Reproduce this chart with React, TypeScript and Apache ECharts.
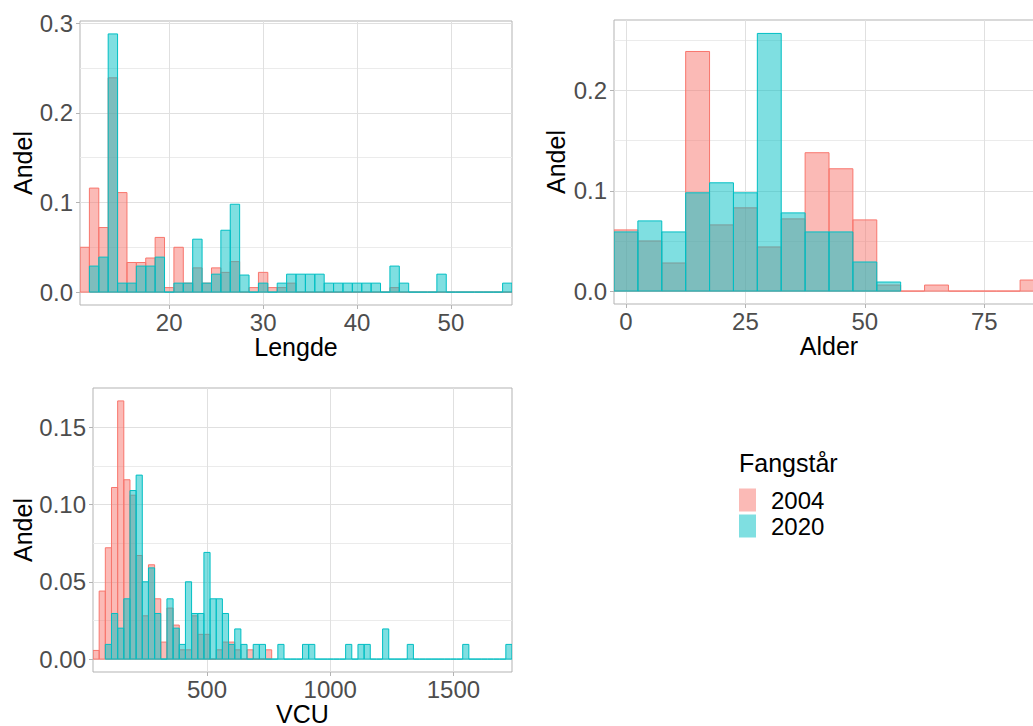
import React, { useEffect, useRef } from 'react';
import * as echarts from 'echarts';

const FONT = "'Liberation Sans', Arial, sans-serif";
const RED_FILL = 'rgba(248,118,109,0.5)';
const RED_LINE = '#F8766D';
const CYAN_FILL = 'rgba(0,191,196,0.5)';
const CYAN_LINE = '#00BFC4';

// ---- Panel 1: Lengde (binwidth 1) ----
const lengdeBins = [11, 12, 13, 14, 15, 16, 17, 18, 19, 20, 21, 22, 23, 24, 25, 26, 27, 28, 29, 30, 31, 32, 33, 34, 35, 36, 37, 38, 39, 40, 41, 42, 43, 44, 45, 46, 47, 48, 49, 50, 51, 52, 53, 54, 55, 56];
const lengde2004 = [0.050, 0.116, 0.072, 0.239, 0.111, 0.033, 0.033, 0.038, 0.061, 0.005, 0.050, 0.010, 0.027, 0.010, 0.027, 0.022, 0.034, 0, 0.005, 0.022, 0.005, 0.005, 0.010, 0, 0, 0, 0, 0, 0, 0, 0, 0, 0, 0.005, 0, 0, 0, 0, 0, 0, 0, 0, 0, 0, 0, 0];
const lengde2020 = [null, 0.029, 0.039, 0.288, 0.010, 0.010, 0.029, 0.029, 0.039, 0, 0.010, 0.010, 0.059, 0.010, 0.020, 0.069, 0.098, 0.019, 0, 0.010, 0, 0.010, 0.020, 0.020, 0.020, 0.020, 0.010, 0.010, 0.010, 0.010, 0.010, 0.010, 0, 0.029, 0.010, 0, 0, 0, 0.020, 0, 0, 0, 0, 0, 0, 0.010];
const lengdeXTicks = [20, 30, 40, 50];
const lengdeYTicks = [0, 0.1, 0.2, 0.3];
const lengdeYMinor = [0.05, 0.15, 0.25];

// ---- Panel 2: Alder (binwidth 5) ----
const alderBins = [0, 5, 10, 15, 20, 25, 30, 35, 40, 45, 50, 55, 60, 65, 70, 75, 80, 85];
const alder2004 = [0.061, 0.050, 0.028, 0.239, 0.066, 0.083, 0.044, 0.072, 0.138, 0.122, 0.071, 0.006, 0, 0.006, 0, 0, 0, 0.011];
const alder2020 = [0.059, 0.070, 0.059, 0.098, 0.108, 0.098, 0.257, 0.078, 0.059, 0.059, 0.029, 0.009, null, null, null, null, null, null];
const alderXTicks = [0, 25, 50, 75];
const alderYTicks = [0, 0.1, 0.2];
const alderYMinor = [0.05, 0.15, 0.25];

// ---- Panel 3: VCU (binwidth 25) ----
const vcuBins = [50, 75, 100, 125, 150, 175, 200, 225, 250, 275, 300, 325, 350, 375, 400, 425, 450, 475, 500, 525, 550, 575, 600, 625, 650, 675, 700, 725, 750, 775, 800, 825, 850, 875, 900, 925, 950, 975, 1000, 1025, 1050, 1075, 1100, 1125, 1150, 1175, 1200, 1225, 1250, 1275, 1300, 1325, 1350, 1375, 1400, 1425, 1450, 1475, 1500, 1525, 1550, 1575, 1600, 1625, 1650, 1675, 1700, 1725];
const vcu2004 = [0.0056, 0.044, 0.072, 0.111, 0.167, 0.116, 0.106, 0.067, 0.028, 0.061, 0.039, 0.011, 0.033, 0.022, 0.006, 0.006, 0.028, 0.016, 0.016, 0, 0.006, 0.011, 0.011, 0.006, 0, 0.006, 0, 0, 0.006,
  null, null, null, null, null, null, null, null, null, null, null, null, null, null, null, null, null, null, null, null, null, null, null, null, null, null, null, null, null, null, null, null, null, null, null, null, null, null, null];
const vcu2020 = [null, null, 0.0095, 0.0295, 0.020, 0.039, 0.109, 0.119, 0.050, 0.059, 0.0295, 0, 0.039, 0.020, 0.0095, 0.050, 0.0295, 0.0295, 0.069, 0.039, 0.039, 0.0295, 0.0095, 0.0195, 0.0095, 0, 0.0095, 0.0095, 0,
  0, 0.0095, 0, 0, 0, 0.0095, 0.0095, 0, 0, 0, 0, 0, 0.0095, 0, 0.0095, 0.0095, 0, 0, 0.0195, 0, 0, 0, 0.0095, 0, 0, 0, 0, 0, 0, 0, 0, 0.0095, 0, 0, 0, 0, 0, 0, 0.0095];
const vcuXTicks = [500, 1000, 1500];
const vcuYTicks = [0, 0.05, 0.10, 0.15];
const vcuYMinor = [0.025, 0.075, 0.125];

const legendNames = ['2004', '2020'];

type Panel = {
  name: string;
  bins: number[];
  a: (number | null)[];
  b: (number | null)[];
  width: number;
  xmin: number; xmax: number; ymin: number; ymax: number;
  xt: number[]; yt: number[]; ym: number[];
  ydec: number;
  grid: { left: number; top: number; width: number; height: number };
  yGap: number;
};

const panels: Panel[] = [
  { name: 'Lengde', bins: lengdeBins, a: lengde2004, b: lengde2020, width: 1, xmin: 10.5, xmax: 56.5, ymin: -0.0144, ymax: 0.3024, xt: lengdeXTicks, yt: lengdeYTicks, ym: lengdeYMinor, ydec: 1, grid: { left: 80, top: 21, width: 432, height: 284 }, yGap: 44 },
  { name: 'Alder', bins: alderBins, a: alder2004, b: alder2020, width: 5, xmin: -2.5, xmax: 87.5, ymin: -0.0129, ymax: 0.2704, xt: alderXTicks, yt: alderYTicks, ym: alderYMinor, ydec: 1, grid: { left: 614, top: 20, width: 430, height: 284 }, yGap: 46 },
  { name: 'VCU', bins: vcuBins, a: vcu2004, b: vcu2020, width: 25, xmin: 37.5, xmax: 1737.5, ymin: -0.00835, ymax: 0.17535, xt: vcuXTicks, yt: vcuYTicks, ym: vcuYMinor, ydec: 2, grid: { left: 93, top: 388, width: 419, height: 284 }, yGap: 57 },
];

function buildOption() {
  const grids: any[] = [];
  const xAxes: any[] = [];
  const yAxes: any[] = [];
  const series: any[] = [];
  panels.forEach((p, i) => {
    grids.push({ ...p.grid, show: true, borderColor: '#B3B3B3', borderWidth: 1, backgroundColor: 'transparent', containLabel: false, outerBoundsMode: 'none' });
    xAxes.push({
      gridIndex: i, type: 'value', min: p.xmin, max: p.xmax,
      name: p.name, nameLocation: 'middle', nameGap: 29,
      nameTextStyle: { fontSize: 25, color: '#000', fontFamily: FONT },
      axisLine: { show: false, onZero: false },
      axisTick: { show: true, length: 4, lineStyle: { color: '#B3B3B3' }, customValues: p.xt },
      axisLabel: { customValues: p.xt, fontSize: 24, color: '#4D4D4D', margin: 5, fontFamily: FONT, formatter: (v: number) => String(Math.round(v)) },
      splitLine: { show: true, lineStyle: { color: '#E0E0E0', width: 1 } },
    });
    yAxes.push({
      gridIndex: i, type: 'value', min: p.ymin, max: p.ymax, position: 'left',
      name: 'Andel', nameLocation: 'middle', nameGap: p.yGap,
      nameTextStyle: { fontSize: 25, color: '#000', fontFamily: FONT },
      axisLine: { show: false, onZero: false },
      axisTick: { show: true, length: 4, lineStyle: { color: '#B3B3B3' }, customValues: p.yt },
      axisLabel: { customValues: p.yt, fontSize: 24, color: '#4D4D4D', margin: 7, fontFamily: FONT, formatter: (v: number) => v.toFixed(p.ydec) },
      splitLine: { show: true, lineStyle: { color: '#E0E0E0', width: 1 } },
    });
    yAxes.push({
      gridIndex: i, type: 'value', min: p.ymin, max: p.ymax, position: 'right',
      axisLine: { show: false, onZero: false },
      axisTick: { show: false, customValues: p.ym },
      axisLabel: { show: false, customValues: p.ym },
      splitLine: { show: true, lineStyle: { color: '#EBEBEB', width: 1 } },
    });
    const mk = (vals: (number | null)[], nm: string, fill: string, line: string) => ({
      type: 'custom', name: nm, xAxisIndex: i, yAxisIndex: 2 * i, clip: true,
      encode: { x: 0, y: 1 },
      itemStyle: { color: fill },
      data: p.bins.map((b, k) => [b, vals[k]]).filter((d) => d[1] !== null && d[1] !== undefined),
      renderItem: (params: any, api: any) => {
        const x = api.value(0);
        const y = api.value(1);
        const p0 = api.coord([x - p.width / 2, y]);
        const p1 = api.coord([x + p.width / 2, 0]);
        return {
          type: 'rect',
          shape: { x: p0[0], y: p0[1], width: p1[0] - p0[0], height: p1[1] - p0[1] },
          style: { fill, stroke: line, lineWidth: 1 },
        };
      },
    });
    series.push(mk(p.a, legendNames[0], RED_FILL, RED_LINE));
    series.push(mk(p.b, legendNames[1], CYAN_FILL, CYAN_LINE));
  });

  return {
    animation: false,
    backgroundColor: '#fff',
    textStyle: { fontFamily: FONT },
    title: { text: 'Fangstår', left: 734, top: 445, textStyle: { fontSize: 25, fontWeight: 'normal', color: '#000', fontFamily: FONT } },
    legend: {
      orient: 'vertical', left: 739, top: 488, padding: 0,
      itemWidth: 17, itemHeight: 23, itemGap: 2, icon: 'rect', selectedMode: false,
      textStyle: { fontSize: 24, color: '#000', fontFamily: FONT, padding: [0, 0, 0, 10] },
      data: [
        { name: legendNames[0], itemStyle: { color: RED_FILL, borderWidth: 0 } },
        { name: legendNames[1], itemStyle: { color: CYAN_FILL, borderWidth: 0 } },
      ],
    },
    grid: grids,
    xAxis: xAxes,
    yAxis: yAxes,
    series,
  };
}

export default function App() {
  const ref = useRef<HTMLDivElement>(null);
  useEffect(() => {
    const chart = echarts.init(ref.current!, null, { renderer: 'svg' });
    chart.setOption(buildOption() as any);
    return () => chart.dispose();
  }, []);
  return <div ref={ref} style={{ position: 'absolute', left: 0, top: 0, width: 1033, height: 726, overflow: 'hidden' }} />;
}
